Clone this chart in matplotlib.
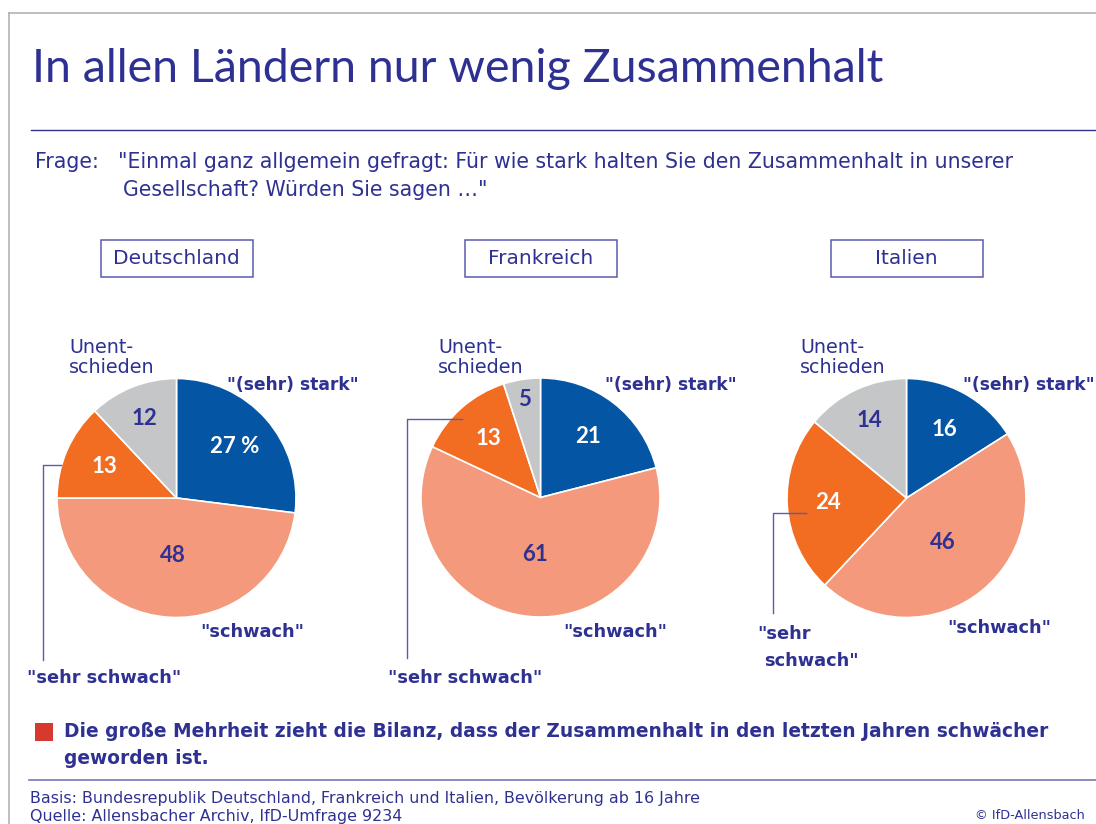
import numpy as np
import matplotlib

matplotlib.use("Agg")
import matplotlib.pyplot as plt
from matplotlib.patches import Rectangle

W, H = 1096, 824

COUNTRIES = ["Deutschland", "Frankreich", "Italien"]
STARK = [27, 21, 16]
SCHWACH = [48, 61, 46]
SEHR_SCHWACH = [13, 13, 24]
UNENTSCHIEDEN = [12, 5, 14]

TITLE = "In allen Ländern nur wenig Zusammenhalt"
QUESTION_1 = '"Einmal ganz allgemein gefragt: Für wie stark halten Sie den Zusammenhalt in unserer'
QUESTION_2 = 'Gesellschaft? Würden Sie sagen …"'
FINDING_1 = "Die große Mehrheit zieht die Bilanz, dass der Zusammenhalt in den letzten Jahren schwächer"
FINDING_2 = "geworden ist."
BASIS = "Basis: Bundesrepublik Deutschland, Frankreich und Italien, Bevölkerung ab 16 Jahre"
SOURCE = "Quelle: Allensbacher Archiv, IfD-Umfrage 9234"
COPYRIGHT = "© IfD-Allensbach"

NAVY = "#2e3192"
SLICE_COLORS = ["#0455a4", "#f4997b", "#f26d21", "#c5c6c8"]
NUMBER_COLORS = ["white", NAVY, "white", NAVY]
NUMBER_DIST = [0.65, 0.48, 0.66, 0.72]

# pie centres in pixels from the top-left corner
CENTERS = [(176.5, 498), (540.5, 497.5), (906.5, 498)]
RADIUS = 119.5

# label offsets relative to the pie centre (dx, dy down)
LABEL_POS = [
    {"unent": (-107.5, -145), "stark": (50.5, -108), "schwach": (23.5, 139),
     "sehr": [(-149.5, 185, '"sehr schwach"')], "leader": (-33, -115.5, 162)},
    {"unent": (-102.5, -145), "stark": (64.5, -108), "schwach": (22.5, 139.5),
     "sehr": [(-152.5, 185.5, '"sehr schwach"')], "leader": (-78.5, -78.5, 160.5)},
    {"unent": (-106.5, -145), "stark": (56.5, -108), "schwach": (40.5, 135),
     "sehr": [(-149.5, 141, '"sehr'), (-142.5, 168, 'schwach"')], "leader": (15, -100.5, 115)},
]

SANS = ["DejaVu Sans"]
ROUND = ["Lato", "DejaVu Sans"]
plt.rcParams["font.family"] = SANS


def Y(y):
    return H - y


def text(ax, x, y, s, size, weight="normal", color=NAVY, ha="left", va="baseline",
         family=SANS):
    ax.text(x, Y(y), s, fontsize=size, fontweight=weight, color=color, ha=ha, va=va,
            family=family)


fig = plt.figure(figsize=(W / 100, H / 100), dpi=100)
ax = fig.add_axes([0, 0, 1, 1])

# frame and header
ax.plot([9, 9], [Y(12.5), Y(H)], color="#b3b3b3", lw=1.2)
ax.plot([9, W], [Y(12.5), Y(12.5)], color="#b3b3b3", lw=1.2)
text(ax, 32, 82, TITLE, 33.6, family=ROUND)
ax.plot([31, W], [Y(130), Y(130)], color=NAVY, lw=1.0)

text(ax, 35, 168, "Frage:", 14.8)
text(ax, 118, 168, QUESTION_1, 14.8)
text(ax, 123, 196, QUESTION_2, 14.8)

for i, country in enumerate(COUNTRIES):
    cx, cy = CENTERS[i]
    values = [STARK[i], SCHWACH[i], SEHR_SCHWACH[i], UNENTSCHIEDEN[i]]

    ax.add_patch(Rectangle((cx - 76, Y(277)), 152, 37, fill=False,
                           edgecolor="#5b5bb0", lw=1.1))
    text(ax, cx, 258.5, country, 14.5, ha="center", va="center")

    wedges, _ = ax.pie(values, colors=SLICE_COLORS, startangle=90, counterclock=False,
                       center=(cx, Y(cy)), radius=RADIUS, frame=True,
                       wedgeprops=dict(edgecolor="white", linewidth=1.2))

    for j, (w, v) in enumerate(zip(wedges, values)):
        mid = np.deg2rad((w.theta1 + w.theta2) / 2)
        dist = 0.83 if v < 8 else NUMBER_DIST[j]
        label = f"{v} %" if (i == 0 and j == 0) else str(v)
        ax.text(cx + dist * RADIUS * np.cos(mid), Y(cy) + dist * RADIUS * np.sin(mid),
                label, fontsize=16, fontweight="bold", color=NUMBER_COLORS[j],
                ha="center", va="center", family=ROUND)

    pos = LABEL_POS[i]
    ux, uy = pos["unent"]
    text(ax, cx + ux, cy + uy, "Unent-", 13.8)
    text(ax, cx + ux, cy + uy + 20, "schieden", 13.8)
    sx, sy = pos["stark"]
    text(ax, cx + sx, cy + sy, '"(sehr) stark"', 12.3, weight="bold")
    wx, wy = pos["schwach"]
    text(ax, cx + wx, cy + wy, '"schwach"', 12.8, weight="bold")
    for dx, dy, s in pos["sehr"]:
        text(ax, cx + dx, cy + dy, s, 12.8, weight="bold")

    ly, lx_end, l_bottom = pos["leader"]
    lx = cx - 133.5
    ax.plot([cx + lx_end, lx, lx], [Y(cy + ly), Y(cy + ly), Y(cy + l_bottom)],
            color="#5b5bb0", lw=1.0)

# bottom finding and footer
ax.add_patch(Rectangle((35, Y(741)), 18, 18, color="#d63a2f", lw=0))
text(ax, 64, 737, FINDING_1, 13.4, weight="bold")
text(ax, 64, 764, FINDING_2, 13.4, weight="bold")
ax.plot([29, W], [Y(780), Y(780)], color="#7878b8", lw=1.2)
text(ax, 30, 803, BASIS, 11.4)
text(ax, 30, 821, SOURCE, 11.4)
text(ax, 1085, 819, COPYRIGHT, 9.3, ha="right")

ax.set_xlim(0, W)
ax.set_ylim(0, H)
ax.set_aspect("equal")
ax.axis("off")

fig.savefig("out.png", dpi=100)
